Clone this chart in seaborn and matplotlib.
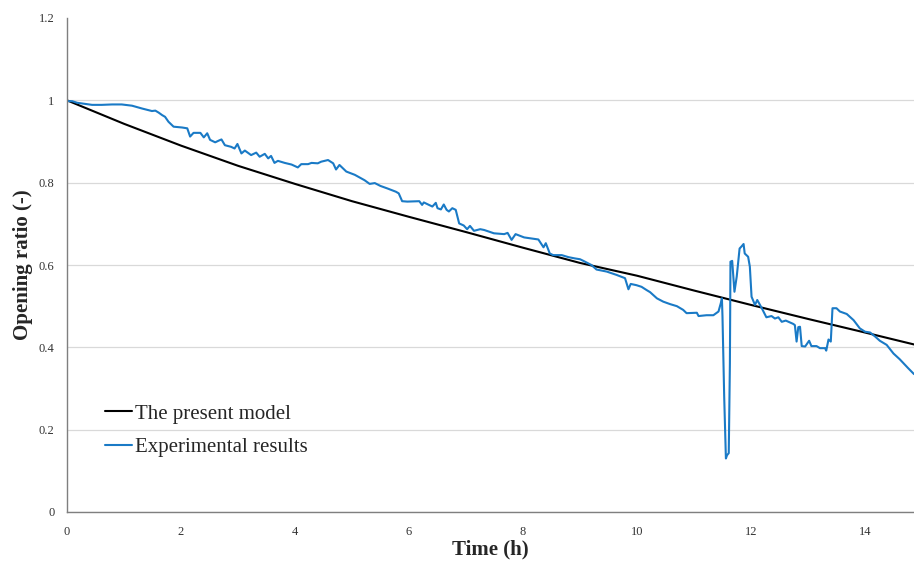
import numpy as np
import pandas as pd
import matplotlib
matplotlib.use("Agg")
import matplotlib.pyplot as plt
import seaborn as sns

# ---- data ----
model_t = [0, 1, 2, 3, 4, 5, 6, 7, 8, 9, 10, 11, 12, 13, 14, 14.86]
model_v = [1.000, 0.943, 0.890, 0.841, 0.797, 0.755, 0.717, 0.680, 0.642,
           0.605, 0.574, 0.538, 0.503, 0.469, 0.436, 0.407]

exp_t = [0.00, 0.02, 0.09, 0.18, 0.44, 0.61, 0.79, 0.96, 1.14, 1.32, 1.49, 1.55,
         1.61, 1.67, 1.72, 1.78, 1.87, 2.02, 2.11, 2.16, 2.22, 2.34, 2.40, 2.46,
         2.51, 2.60, 2.66, 2.71, 2.77, 2.88, 2.94, 2.99, 3.06, 3.12, 3.23, 3.32,
         3.38, 3.47, 3.53, 3.58, 3.64, 3.70, 3.82, 3.94, 4.05, 4.11, 4.23, 4.29,
         4.40, 4.46, 4.58, 4.67, 4.72, 4.78, 4.90, 5.05, 5.22, 5.31, 5.40, 5.50,
         5.62, 5.77, 5.82, 5.88, 5.97, 6.18, 6.23, 6.26, 6.41, 6.47, 6.50, 6.56,
         6.61, 6.66, 6.70, 6.76, 6.82, 6.88, 6.96, 7.02, 7.07, 7.14, 7.25, 7.32,
         7.49, 7.67, 7.73, 7.80, 7.87, 8.02, 8.12, 8.27, 8.36, 8.40, 8.47, 8.53,
         8.68, 8.80, 8.91, 9.00, 9.06, 9.20, 9.29, 9.47, 9.64, 9.79, 9.85, 9.89,
         9.99, 10.08, 10.17, 10.23, 10.35, 10.46, 10.58, 10.70, 10.81, 10.87,
         11.05, 11.08, 11.22, 11.34, 11.43, 11.47, 11.49, 11.50, 11.53, 11.56,
         11.58, 11.61, 11.63, 11.64, 11.67, 11.71, 11.75, 11.80, 11.84, 11.87,
         11.89, 11.95, 11.98, 12.01, 12.07, 12.11, 12.19, 12.27, 12.36, 12.42,
         12.48, 12.54, 12.61, 12.74, 12.77, 12.80, 12.83, 12.86, 12.89, 12.95,
         13.02, 13.06, 13.15, 13.21, 13.30, 13.32, 13.36, 13.40, 13.43, 13.50,
         13.56, 13.68, 13.80, 13.91, 14.00, 14.09, 14.18, 14.26, 14.38, 14.50,
         14.61, 14.76, 14.86]
exp_v = [1.000, 0.998, 0.998, 0.994, 0.989, 0.989, 0.990, 0.990, 0.987, 0.980,
         0.974, 0.975, 0.970, 0.964, 0.960, 0.948, 0.936, 0.934, 0.932, 0.912,
         0.921, 0.921, 0.910, 0.920, 0.904, 0.898, 0.902, 0.905, 0.891, 0.887,
         0.883, 0.894, 0.871, 0.878, 0.867, 0.873, 0.863, 0.870, 0.859, 0.865,
         0.848, 0.853, 0.848, 0.844, 0.837, 0.845, 0.845, 0.848, 0.847, 0.851,
         0.855, 0.847, 0.832, 0.843, 0.827, 0.819, 0.806, 0.797, 0.799, 0.792,
         0.786, 0.778, 0.774, 0.755, 0.754, 0.755, 0.746, 0.752, 0.742, 0.751,
         0.738, 0.735, 0.747, 0.734, 0.730, 0.738, 0.734, 0.701, 0.696, 0.687,
         0.695, 0.683, 0.687, 0.685, 0.677, 0.675, 0.678, 0.661, 0.675, 0.667,
         0.665, 0.662, 0.643, 0.653, 0.628, 0.624, 0.624, 0.619, 0.616, 0.614,
         0.610, 0.600, 0.589, 0.584, 0.576, 0.568, 0.541, 0.554, 0.551, 0.547,
         0.539, 0.534, 0.519, 0.511, 0.505, 0.500, 0.491, 0.483, 0.484, 0.476,
         0.478, 0.478, 0.487, 0.507, 0.519, 0.475, 0.280, 0.130, 0.138, 0.143,
         0.361, 0.608, 0.610, 0.535, 0.572, 0.640, 0.646, 0.651, 0.628, 0.620,
         0.596, 0.523, 0.503, 0.515, 0.495, 0.473, 0.476, 0.470, 0.473, 0.462,
         0.465, 0.457, 0.454, 0.414, 0.449, 0.450, 0.403, 0.402, 0.416, 0.403,
         0.403, 0.398, 0.398, 0.392, 0.419, 0.414, 0.495, 0.495, 0.487, 0.481,
         0.466, 0.446, 0.438, 0.436, 0.426, 0.416, 0.406, 0.385, 0.371, 0.349,
         0.335]

series_names = ["The present model", "Experimental results"]
colors = {"The present model": "#000000", "Experimental results": "#1a7ac6"}
x_ticks = [0, 2, 4, 6, 8, 10, 12, 14]
y_ticks = [0, 0.2, 0.4, 0.6, 0.8, 1.0, 1.2]
y_labels = ["0", "0.2", "0.4", "0.6", "0.8", "1", "1.2"]

df = pd.concat([
    pd.DataFrame({"t": model_t, "v": model_v, "series": series_names[0]}),
    pd.DataFrame({"t": exp_t, "v": exp_v, "series": series_names[1]}),
], ignore_index=True)

sns.set_style("white")
plt.rcParams["font.family"] = ["Liberation Serif", "DejaVu Serif"]

fig = plt.figure(figsize=(9.14, 5.62), dpi=100)
ax = fig.add_axes([67 / 914, 50 / 562, 847 / 914, 494 / 562])

sns.lineplot(data=df, x="t", y="v", hue="series", hue_order=series_names,
             palette=colors, estimator=None, sort=False, linewidth=1.5, ax=ax)

ax.set_xlim(0, 14.86)
ax.set_ylim(0, 1.2)
ax.set_xticks(x_ticks)
ax.set_xticklabels([str(t) for t in x_ticks])
ax.set_yticks(y_ticks)
ax.set_yticklabels(y_labels)
ax.tick_params(axis="both", length=0, labelsize=9, colors="#333333")
ax.tick_params(axis="x", pad=10)
ax.tick_params(axis="y", pad=9)

ax.yaxis.grid(True, color="#d9d9d9", linewidth=0.9)
ax.xaxis.grid(False)
ax.get_ygridlines()[-1].set_visible(False)
ax.set_axisbelow(True)

for s in ["top", "right"]:
    ax.spines[s].set_visible(False)
for s in ["left", "bottom"]:
    ax.spines[s].set_color("#7f7f7f")
    ax.spines[s].set_linewidth(1.0)

ax.set_xlabel("Time (h)", fontsize=15, fontweight="bold", labelpad=1)
ax.set_ylabel("Opening ratio (-)", fontsize=15, fontweight="bold", labelpad=4)

leg = ax.legend(loc="center left", bbox_to_anchor=(0.045, 0.165), frameon=False,
                fontsize=15, handlelength=1.3, handletextpad=0.12,
                labelspacing=0.65, borderpad=0, borderaxespad=0)
for line in leg.get_lines():
    line.set_linewidth(1.5)

fig.savefig("out.png", dpi=100)
